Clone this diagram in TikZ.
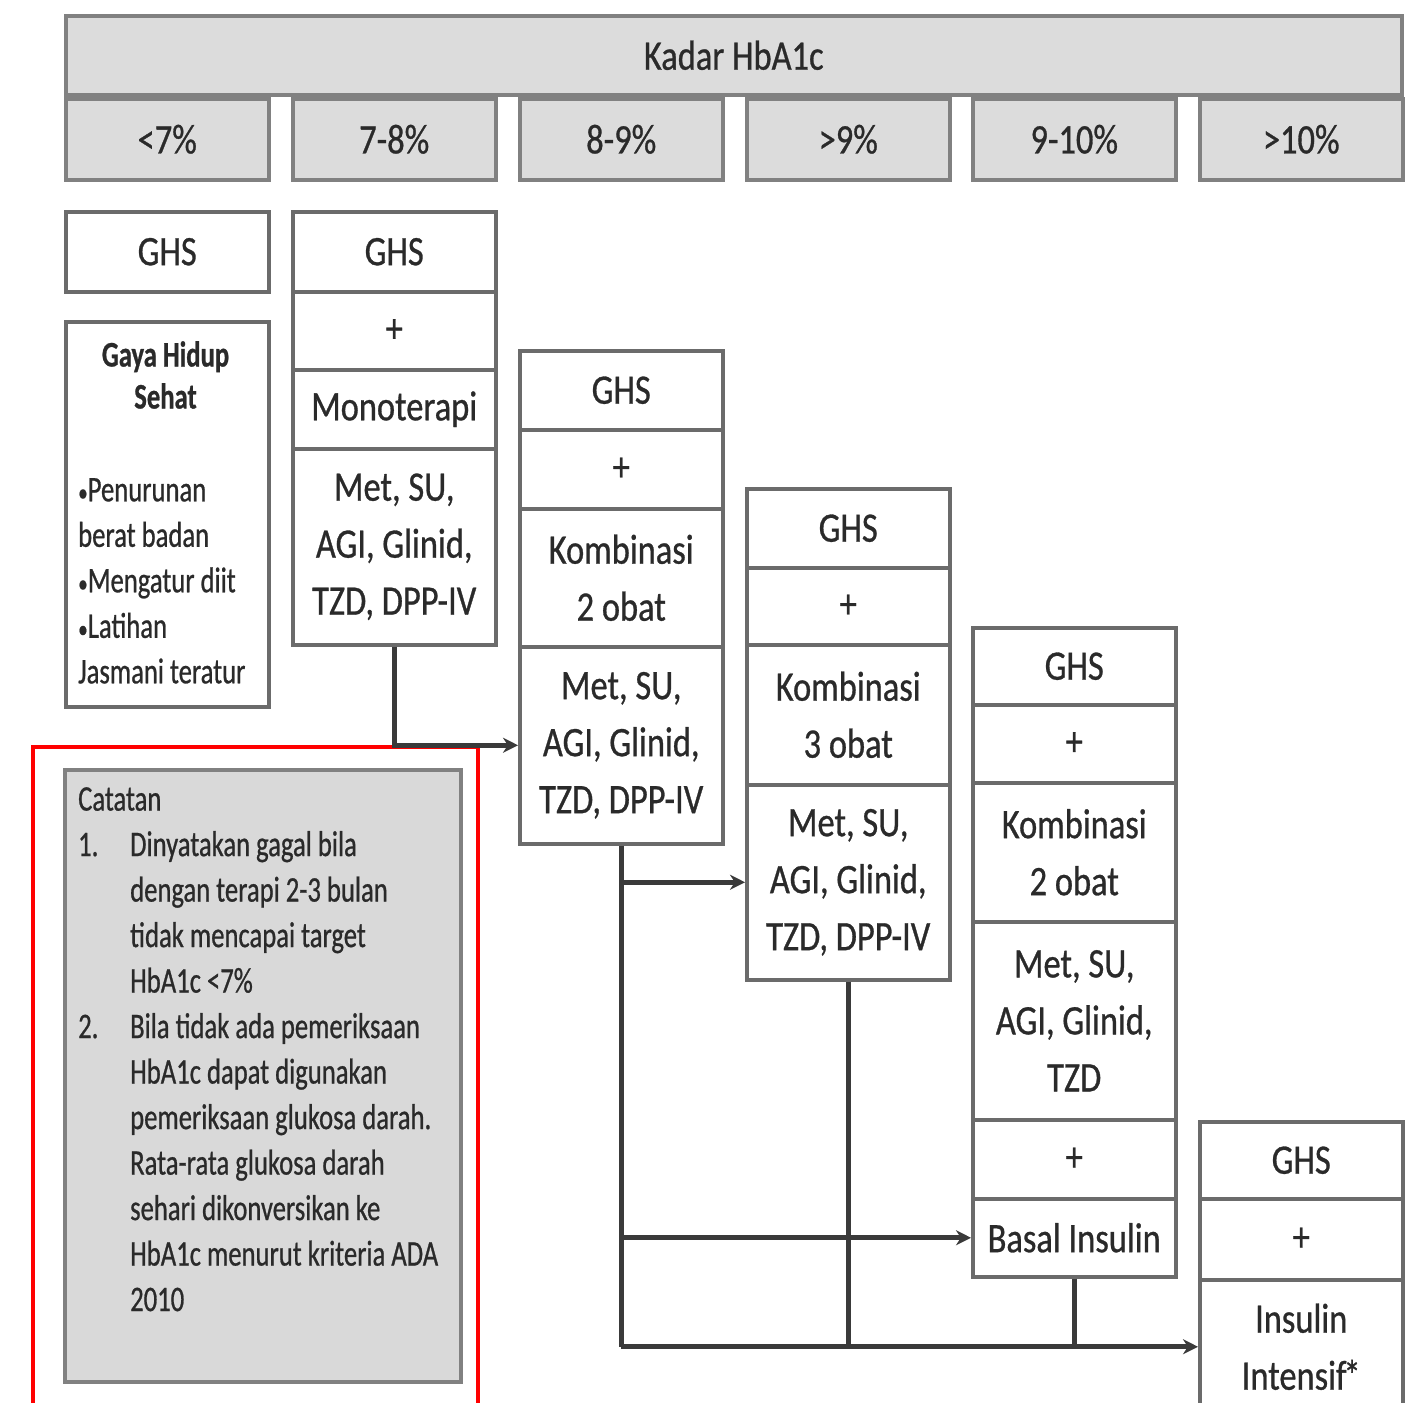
\documentclass[tikz,border=0pt]{standalone}
\usepackage{fontspec}
\setmainfont{Carlito}[FakeStretch=0.82,FakeBold=0.7]
\newfontfamily\notefont{Carlito}[FakeStretch=0.74,FakeBold=0.7]
\usetikzlibrary{arrows.meta}
\definecolor{bord}{HTML}{6B6B6B}
\definecolor{hdrfill}{HTML}{DCDCDC}
\definecolor{notefill}{HTML}{D9D9D9}
\definecolor{conn}{HTML}{3A3A3A}
\definecolor{txt}{HTML}{2A2A2A}
\newcommand{\smbul}{{\fontsize{26}{0}\selectfont\textbullet}}
\begin{document}
\begin{tikzpicture}[x=1pt,y=-1pt,
 cell/.style={draw=bord, line width=3.5pt, fill=white, minimum width=203pt, inner sep=0pt,
   anchor=north west, align=center, text=txt, font=\fontsize{42}{57}\selectfont},
 hcell/.style={cell, fill=hdrfill, draw=bord!85},
 link/.style={draw=conn, line width=5pt},
 arr/.style={link, -{Stealth[length=15pt,width=15pt]}},
 small/.style={font=\notefont\fontsize{36}{45.5}\selectfont, text=txt, inner sep=0pt, align=left}
]
\useasboundingbox (0,0) rectangle (1414,1403);
\clip (0,0) rectangle (1414,1403);
\fill[white] (0,0) rectangle (1414,1403);

% header
\node[hcell, minimum width=1336pt, minimum height=79pt] (hdr) at (64,14) {Kadar HbA1c};
\node[hcell, minimum height=81pt] (c1) at (64,97) {<7\%};
\node[hcell, minimum height=81pt] (c2) at (291,97) {7-8\%};
\node[hcell, minimum height=81pt] (c3) at (518,97) {8-9\%};
\node[hcell, minimum height=81pt] (c4) at (745,97) {>9\%};
\node[hcell, minimum height=81pt] (c5) at (971,97) {9-10\%};
\node[hcell, minimum height=81pt] (c6) at (1198,97) {>10\%};

% column 1
\node[cell, minimum height=80pt] (g1) at (64,210) {GHS};
\node[cell, minimum height=385pt] (ghs1) at (64,320) {};
\node[small, font=\notefont\bfseries\fontsize{36}{42}\selectfont, align=center] (ghst) at (165.5,375) {Gaya Hidup\\Sehat};
\node[small, anchor=north west] (ghsl) at (78,478) {\smbul Penurunan\\berat badan\\\smbul Mengatur diit\\\smbul Latihan\\Jasmani teratur};

% column 2
\node[cell, minimum height=80pt] (g2) at (291,210) {GHS};
\node[cell, minimum height=78pt] (p2) at (291,290) {+};
\node[cell, minimum height=79pt] (mono2) at (291,368) {Monoterapi};
\node[cell, minimum height=196pt] (m2) at (291,447) {Met, SU,\\AGI, Glinid,\\TZD, DPP-IV};

% column 3
\node[cell, minimum height=79pt] (g3) at (518,349) {GHS};
\node[cell, minimum height=79pt] (p3) at (518,428) {+};
\node[cell, minimum height=138pt] (k3) at (518,507) {Kombinasi\\2 obat};
\node[cell, minimum height=197pt] (m3) at (518,645) {Met, SU,\\AGI, Glinid,\\TZD, DPP-IV};

% column 4
\node[cell, minimum height=79pt] (g4) at (745,487) {GHS};
\node[cell, minimum height=77pt] (p4) at (745,566) {+};
\node[cell, minimum height=140pt] (k4) at (745,643) {Kombinasi\\3 obat};
\node[cell, minimum height=195pt] (m4) at (745,783) {Met, SU,\\AGI, Glinid,\\TZD, DPP-IV};

% column 5
\node[cell, minimum height=77pt] (g5) at (971,626) {GHS};
\node[cell, minimum height=78pt] (p5) at (971,703) {+};
\node[cell, minimum height=139pt] (k5) at (971,781) {Kombinasi\\2 obat};
\node[cell, minimum height=198pt] (m5) at (971,920) {Met, SU,\\AGI, Glinid,\\TZD};
\node[cell, minimum height=79pt] (p5b) at (971,1118) {+};
\node[cell, minimum height=78pt] (bi) at (971,1197) {Basal Insulin};

% column 6
\node[cell, minimum height=77pt] (g6) at (1198,1120) {GHS};
\node[cell, minimum height=81pt] (p6) at (1198,1197) {+};
\node[cell, minimum height=134pt] (ii) at (1198,1278) {Insulin\\Intensif\kern-3pt*};

% notes
\node[draw=red, line width=4pt, minimum width=445pt, minimum height=690pt, anchor=north west, inner sep=0pt] (hl) at (31,745) {};
\node[draw=bord!85, fill=notefill, line width=3.5pt, minimum width=396pt, minimum height=612pt, anchor=north west, inner sep=0pt] (note) at (63,768) {};
\node[small, anchor=north west] (notetxt) at (78,787) {Catatan\\
\makebox[52pt][l]{1.}Dinyatakan gagal bila\\
\hspace*{52pt}dengan terapi 2-3 bulan\\
\hspace*{52pt}tidak mencapai target\\
\hspace*{52pt}HbA1c <7\%\\
\makebox[52pt][l]{2.}Bila tidak ada pemeriksaan\\
\hspace*{52pt}HbA1c dapat digunakan\\
\hspace*{52pt}pemeriksaan glukosa darah.\\
\hspace*{52pt}Rata-rata glukosa darah\\
\hspace*{52pt}sehari dikonversikan ke\\
\hspace*{52pt}HbA1c menurut kriteria ADA\\
\hspace*{52pt}2010};

% connectors
\draw[arr] (m2.south) |- (m3.west);
\draw[link] (m3.south) -- (m3.south |- ii.west);
\draw[arr] (m3.south |- m4.west) -- (m4.west);
\draw[arr] (m3.south |- bi.west) -- (bi.west);
\draw[arr] (m3.south |- ii.west) -- (ii.west);
\draw[link] (m4.south) -- (m4.south |- ii.west);
\draw[link] (bi.south) -- (bi.south |- ii.west);
\end{tikzpicture}
\end{document}
